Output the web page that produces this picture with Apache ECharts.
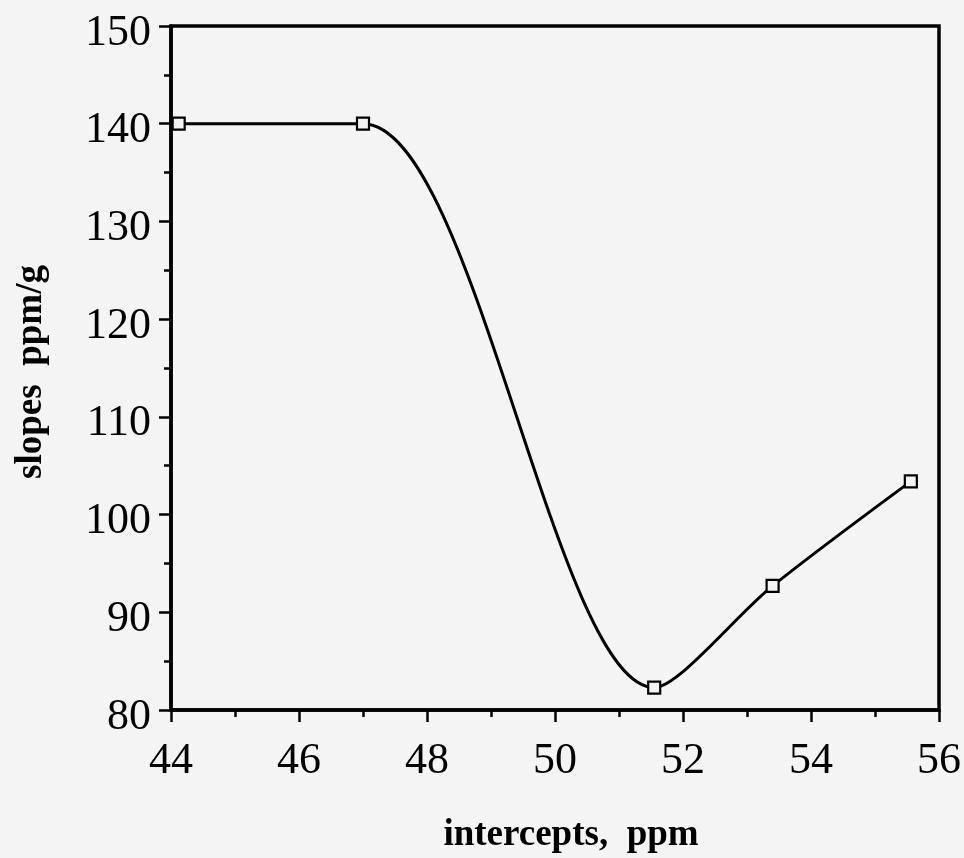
<!DOCTYPE html>
<html>
<head>
<meta charset="utf-8">
<title>slopes vs intercepts</title>
<script src="https://cdn.jsdelivr.net/npm/echarts@6/dist/echarts.min.js"></script>
<style>
  html, body { margin: 0; padding: 0; background: #f4f4f4; }
  #chart { width: 964px; height: 858px; }
</style>
</head>
<body>
<div id="chart"></div>
<script>
// Measured points: intercept (ppm) against slope (ppm/g)
const intercepts = [44.12, 47.0, 51.55, 53.4, 55.56];
const slopes = [140, 140, 82.3, 92.7, 103.4];

// Axis ranges and steps
const xRange = [44, 56];
const xStep = 2;
const yRange = [80, 150];
const yStep = 10;

const xTitle = 'intercepts,  ppm';
const yTitle = 'slopes  ppm/g';

const bg = '#f4f4f4';
const ink = '#000';
const serif = '"Liberation Serif", "Times New Roman", serif';

const points = intercepts.map((x, i) => [x, slopes[i]]);

const chart = echarts.init(document.getElementById('chart'), null, { renderer: 'canvas' });

chart.setOption({
  backgroundColor: bg,
  animation: false,
  grid: {
    left: 171,
    top: 26,
    width: 768,
    height: 684,
    show: true,
    borderColor: ink,
    borderWidth: 3.5,
    backgroundColor: 'transparent'
  },
  xAxis: {
    type: 'value',
    min: xRange[0],
    max: xRange[1],
    interval: xStep,
    axisLine: { show: true, lineStyle: { color: ink, width: 3.5 } },
    axisTick: { show: true, length: 12, lineStyle: { color: ink, width: 2.5 } },
    minorTick: { show: true, splitNumber: 2, length: 7, lineStyle: { color: ink, width: 2.5 } },
    splitLine: { show: false },
    minorSplitLine: { show: false },
    axisLabel: {
      color: ink,
      fontFamily: serif,
      fontSize: 44,
      margin: 29
    }
  },
  yAxis: {
    type: 'value',
    min: yRange[0],
    max: yRange[1],
    interval: yStep,
    axisLine: { show: true, lineStyle: { color: ink, width: 3.5 } },
    axisTick: { show: true, length: 12, lineStyle: { color: ink, width: 2.5 } },
    minorTick: { show: true, splitNumber: 2, length: 7, lineStyle: { color: ink, width: 2.5 } },
    splitLine: { show: false },
    minorSplitLine: { show: false },
    axisLabel: {
      color: ink,
      margin: 20,
      formatter: '{v|{value}}',
      rich: {
        v: {
          color: ink,
          fontFamily: serif,
          fontSize: 44,
          padding: [14, 0, 0, 0]
        }
      }
    }
  },
  series: [{
    type: 'line',
    data: points,
    smooth: 0.3,
    symbol: 'rect',
    symbolSize: 12,
    showAllSymbol: true,
    lineStyle: { color: ink, width: 3 },
    itemStyle: { color: bg, borderColor: ink, borderWidth: 2.2 },
    z: 3
  }],
  graphic: [
    {
      type: 'text',
      x: 571,
      y: 835,
      style: {
        text: xTitle,
        font: 'bold 37px ' + serif,
        fill: ink,
        textAlign: 'center',
        textVerticalAlign: 'middle'
      }
    },
    {
      type: 'text',
      x: 31,
      y: 372,
      rotation: Math.PI / 2,
      style: {
        text: yTitle,
        font: 'bold 37px ' + serif,
        fill: ink,
        textAlign: 'center',
        textVerticalAlign: 'middle'
      }
    }
  ]
});
</script>
</body>
</html>
